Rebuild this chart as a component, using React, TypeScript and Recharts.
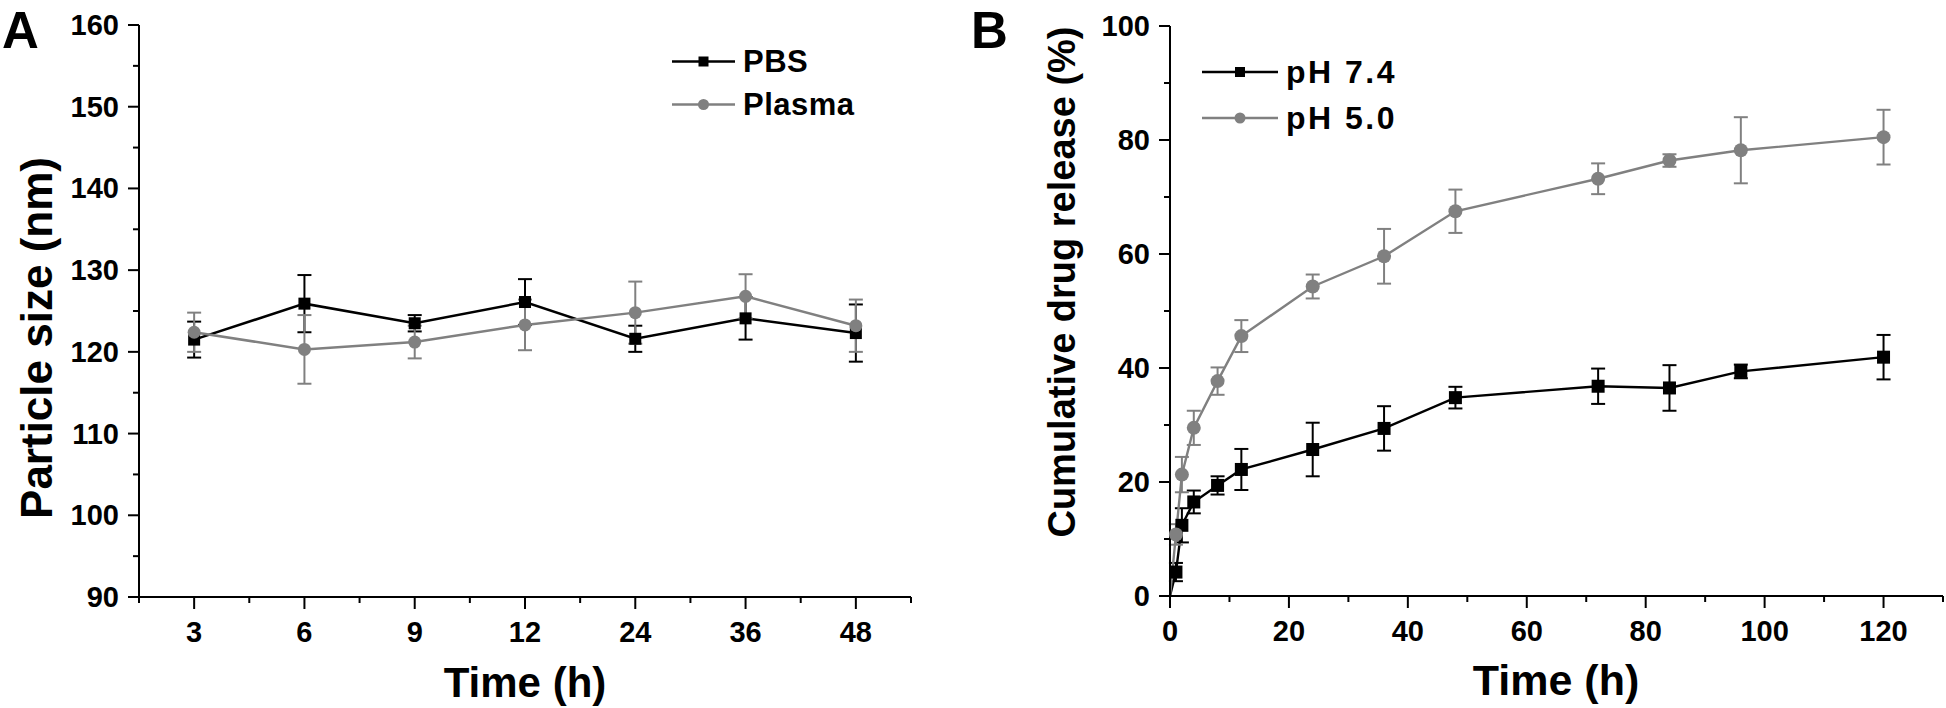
import { LineChart, Line, XAxis, YAxis, ErrorBar, Legend } from 'recharts';

const FONT = '"Liberation Sans", Arial, Helvetica, sans-serif';
const BLACK = '#000000';
const GRAY = '#808080';

// Panel A: particle size stability
const sizeTimes = ['3', '6', '9', '12', '24', '36', '48'];
const pbsSize = [121.5, 125.9, 123.5, 126.1, 121.6, 124.1, 122.3];
const pbsErr = [2.2, 3.5, 1.0, 2.8, 1.6, 2.6, 3.5];
const plasmaSize = [122.4, 120.3, 121.2, 123.3, 124.8, 126.8, 123.2];
const plasmaErr = [2.4, 4.2, 2.0, 3.1, 3.8, 2.7, 3.2];
const sizeYTicks = [90, 95, 100, 105, 110, 115, 120, 125, 130, 135, 140, 145, 150, 155, 160];

// Panel B: cumulative release
const releaseTimes = [0, 1, 2, 4, 8, 12, 24, 36, 48, 72, 84, 96, 120];
const ph74 = [0, 4.2, 12.4, 16.5, 19.4, 22.2, 25.7, 29.4, 34.8, 36.8, 36.5, 39.4, 41.9];
const ph74Err = [0, 1.6, 3.0, 2.0, 1.6, 3.6, 4.7, 3.9, 1.9, 3.1, 4.0, 1.2, 3.9];
const ph50 = [0, 10.8, 21.3, 29.5, 37.7, 45.6, 54.3, 59.6, 67.5, 73.2, 76.4, 78.2, 80.5];
const ph50Err = [0, 1.8, 3.1, 3.0, 2.4, 2.8, 2.1, 4.8, 3.8, 2.7, 1.1, 5.8, 4.8];
const releaseXTicks = [0, 10, 20, 30, 40, 50, 60, 70, 80, 90, 100, 110, 120, 130];
const releaseYTicks = [0, 10, 20, 30, 40, 50, 60, 70, 80, 90, 100];

const sizeData = sizeTimes.map((t, i) => ({
  idx: i,
  time: t,
  pbs: pbsSize[i],
  pbsErr: pbsErr[i],
  plasma: plasmaSize[i],
  plasmaErr: plasmaErr[i],
}));

const releaseData = releaseTimes.map((t, i) => ({
  time: t,
  ph74: ph74[i],
  ph74Err: ph74Err[i],
  ph50: ph50[i],
  ph50Err: ph50Err[i],
}));

// x positions of category ticks (index based) plus the minor ticks between them
const sizeXTicks = [-0.5, 0, 0.5, 1, 1.5, 2, 2.5, 3, 3.5, 4, 4.5, 5, 5.5, 6, 6.5];

function YTick(props: any) {
  const { x, y, payload, isMajor } = props;
  const major = isMajor(payload.value);
  return (
    <g>
      <line x1={x - (major ? 11 : 6)} x2={x} y1={y} y2={y} stroke={BLACK} strokeWidth={2} />
      {major && (
        <text x={x - 20} y={y + 10} textAnchor="end" fontSize={29} fontWeight="bold" fontFamily={FONT} fill={BLACK}>
          {payload.value}
        </text>
      )}
    </g>
  );
}

function XTick(props: any) {
  const { x, y, payload, isMajor, label } = props;
  const major = isMajor(payload.value);
  return (
    <g>
      <line x1={x} x2={x} y1={y} y2={y + (major ? 12 : 6)} stroke={BLACK} strokeWidth={2} />
      {major && (
        <text x={x} y={y + 45} textAnchor="middle" fontSize={29} fontWeight="bold" fontFamily={FONT} fill={BLACK}>
          {label(payload.value)}
        </text>
      )}
    </g>
  );
}

const squareDot = (size: number, skipZero: boolean) => (p: any) => {
  const k = `sq-${p.index}`;
  if (p.cx == null || p.cy == null || (skipZero && p.payload.time === 0)) return <g key={k} />;
  return <rect key={k} x={p.cx - size / 2} y={p.cy - size / 2} width={size} height={size} fill={BLACK} />;
};

const circleDot = (r: number, skipZero: boolean) => (p: any) => {
  const k = `ci-${p.index}`;
  if (p.cx == null || p.cy == null || (skipZero && p.payload.time === 0)) return <g key={k} />;
  return <circle key={k} cx={p.cx} cy={p.cy} r={r} fill={GRAY} />;
};

function LegendBox({ items, rowH, lineW, fontSize, spacing }: any) {
  return (
    <div style={{ fontFamily: FONT, fontWeight: 'bold', fontSize, letterSpacing: spacing }}>
      {items.map((it: any) => (
        <div key={it.name} style={{ display: 'flex', alignItems: 'center', height: rowH, lineHeight: `${rowH}px` }}>
          <svg width={lineW} height={rowH} style={{ display: 'block' }}>
            <line x1={0} x2={lineW} y1={rowH / 2} y2={rowH / 2} stroke={it.color} strokeWidth={2.5} />
            {it.shape === 'square' ? (
              <rect x={lineW / 2 - 5} y={rowH / 2 - 5} width={10} height={10} fill={it.color} />
            ) : (
              <circle cx={lineW / 2} cy={rowH / 2} r={5.5} fill={it.color} />
            )}
          </svg>
          <span style={{ marginLeft: 8, color: BLACK, whiteSpace: 'nowrap' }}>{it.name}</span>
        </div>
      ))}
    </div>
  );
}

function SizePanel() {
  return (
    <LineChart width={960} height={708} data={sizeData} margin={{ top: 25, right: 49, left: 0, bottom: 0 }}>
      <XAxis
        dataKey="idx"
        type="number"
        domain={[-0.5, 6.5]}
        ticks={sizeXTicks}
        interval={0}
        height={111}
        tickSize={0}
        tickMargin={0}
        tickLine={false}
        axisLine={{ stroke: BLACK, strokeWidth: 2 }}
        tick={(p: any) => (
          <XTick {...p} isMajor={(v: number) => Number.isInteger(v)} label={(v: number) => sizeTimes[v]} />
        )}
      />
      <YAxis
        type="number"
        domain={[90, 160]}
        ticks={sizeYTicks}
        interval={0}
        width={139}
        tickSize={0}
        tickMargin={0}
        tickLine={false}
        axisLine={{ stroke: BLACK, strokeWidth: 2 }}
        tick={(p: any) => <YTick {...p} isMajor={(v: number) => v % 10 === 0} />}
      />
      <Legend
        layout="vertical"
        align="center"
        verticalAlign="middle"
        wrapperStyle={{ left: 672, top: 40, width: 'auto', height: 'auto' }}
        content={() => (
          <LegendBox
            rowH={43}
            lineW={63}
            fontSize={31}
            spacing={0.5}
            items={[
              { name: 'PBS', color: BLACK, shape: 'square' },
              { name: 'Plasma', color: GRAY, shape: 'circle' },
            ]}
          />
        )}
      />
      <Line
        dataKey="pbs"
        name="PBS"
        stroke={BLACK}
        strokeWidth={2.5}
        dot={squareDot(12, false)}
        activeDot={false}
        isAnimationActive={false}
      >
        <ErrorBar dataKey="pbsErr" direction="y" width={7} stroke={BLACK} strokeWidth={2} />
      </Line>
      <Line
        dataKey="plasma"
        name="Plasma"
        stroke={GRAY}
        strokeWidth={2.5}
        dot={circleDot(6.5, false)}
        activeDot={false}
        isAnimationActive={false}
      >
        <ErrorBar dataKey="plasmaErr" direction="y" width={7} stroke={GRAY} strokeWidth={2} />
      </Line>
    </LineChart>
  );
}

function ReleasePanel() {
  return (
    <LineChart width={986} height={708} data={releaseData} margin={{ top: 26, right: 3, left: 0, bottom: 0 }}>
      <XAxis
        dataKey="time"
        type="number"
        domain={[0, 130]}
        ticks={releaseXTicks}
        interval={0}
        height={112}
        tickSize={0}
        tickMargin={0}
        tickLine={false}
        axisLine={{ stroke: BLACK, strokeWidth: 2 }}
        tick={(p: any) => <XTick {...p} isMajor={(v: number) => v % 20 === 0} label={(v: number) => v} />}
      />
      <YAxis
        type="number"
        domain={[0, 100]}
        ticks={releaseYTicks}
        interval={0}
        width={210}
        tickSize={0}
        tickMargin={0}
        tickLine={false}
        axisLine={{ stroke: BLACK, strokeWidth: 2 }}
        tick={(p: any) => <YTick {...p} isMajor={(v: number) => v % 20 === 0} />}
      />
      <Legend
        layout="vertical"
        align="center"
        verticalAlign="middle"
        wrapperStyle={{ left: 242, top: 49, width: 'auto', height: 'auto' }}
        content={() => (
          <LegendBox
            rowH={46}
            lineW={76}
            fontSize={32}
            spacing={2.5}
            items={[
              { name: 'pH 7.4', color: BLACK, shape: 'square' },
              { name: 'pH 5.0', color: GRAY, shape: 'circle' },
            ]}
          />
        )}
      />
      <Line
        dataKey="ph74"
        name="pH 7.4"
        stroke={BLACK}
        strokeWidth={2.4}
        dot={squareDot(13, true)}
        activeDot={false}
        isAnimationActive={false}
      >
        <ErrorBar dataKey="ph74Err" direction="y" width={7} stroke={BLACK} strokeWidth={2} />
      </Line>
      <Line
        dataKey="ph50"
        name="pH 5.0"
        stroke={GRAY}
        strokeWidth={2.4}
        dot={circleDot(7, true)}
        activeDot={false}
        isAnimationActive={false}
      >
        <ErrorBar dataKey="ph50Err" direction="y" width={7} stroke={GRAY} strokeWidth={2} />
      </Line>
    </LineChart>
  );
}

export default function App() {
  return (
    <div style={{ position: 'absolute', left: 0, top: 0, width: 1946, height: 708, background: '#fff', overflow: 'hidden' }}>
      <div style={{ position: 'absolute', left: 0, top: 0 }}>
        <SizePanel />
      </div>
      <div style={{ position: 'absolute', left: 960, top: 0 }}>
        <ReleasePanel />
      </div>
      <svg
        width={1946}
        height={708}
        style={{ position: 'absolute', left: 0, top: 0, pointerEvents: 'none' }}
        fontFamily={FONT}
        fontWeight="bold"
        fill={BLACK}
      >
        <text x={2} y={48} fontSize={51}>A</text>
        <text x={971} y={48} fontSize={51}>B</text>
        <text x={36} y={338} fontSize={44} textAnchor="middle" dominantBaseline="central" transform="rotate(-90 36 338)">
          Particle size (nm)
        </text>
        <text x={525} y={697} fontSize={42} textAnchor="middle">Time (h)</text>
        <text x={1062} y={282} fontSize={38} textAnchor="middle" dominantBaseline="central" transform="rotate(-90 1062 282)">
          Cumulative drug release (%)
        </text>
        <text x={1556} y={695} fontSize={43} textAnchor="middle">Time (h)</text>
      </svg>
    </div>
  );
}
